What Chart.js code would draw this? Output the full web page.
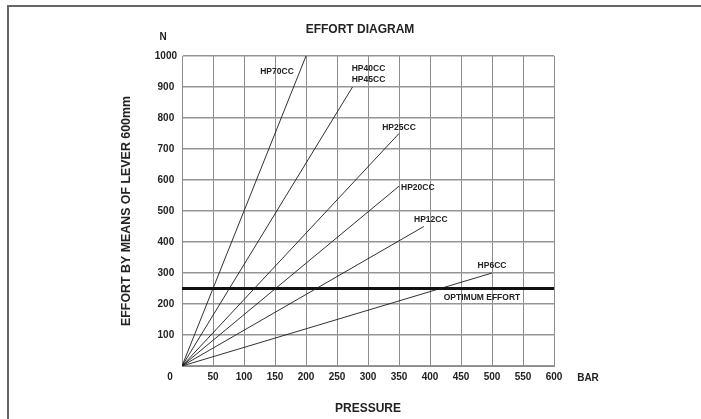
<!DOCTYPE html>
<html>
<head>
<meta charset="utf-8">
<script src="https://cdn.jsdelivr.net/npm/chart.js@4"></script>
<style>
    html, body { margin: 0; padding: 0; background: #fff; }
    #wrap { width: 701px; height: 419px; }
</style>
</head>
<body>
<div id="wrap"><canvas id="effortChart" width="701" height="419"></canvas></div>
<script>
// Pump models and the end point of each straight line (line starts at 0,0)
const models = ['HP70CC', 'HP40CC\nHP45CC', 'HP25CC', 'HP20CC', 'HP12CC', 'HP6CC'];
const endPressure = [200, 275, 350, 350, 390, 500];   // BAR
const endEffort = [1000, 900, 750, 580, 450, 300];     // N
const optimumEffort = 250;
const pressureMin = 0, pressureMax = 600, pressureStep = 50;
const effortMin = 0, effortMax = 1000, effortStep = 100;

// label placement relative to each line end (pixels)
const labelOffsets = [
    { dx: -29, dy: 16, align: 'center' },
    { dx: 16, dy: -18, align: 'center' },
    { dx: 0, dy: -6, align: 'center' },
    { dx: 2, dy: 1, align: 'left' },
    { dx: 7, dy: -7, align: 'center' },
    { dx: 0, dy: -7, align: 'center' }
];

const textColor = '#222';
const gridColor = '#8c8c8c';
const boldFont = 'Liberation Sans, Arial, sans-serif';

const datasets = models.map((m, i) => ({
    label: m.replace('\n', ' / '),
    data: [{ x: 0, y: 0 }, { x: endPressure[i], y: endEffort[i] }],
    borderColor: '#1a1a1a',
    borderWidth: 0.9,
    pointRadius: 0,
    fill: false
}));
datasets.push({
    label: 'OPTIMUM EFFORT',
    data: [{ x: pressureMin, y: optimumEffort }, { x: pressureMax, y: optimumEffort }],
    borderColor: '#111',
    borderWidth: 3,
    pointRadius: 0,
    fill: false
});

const annotations = {
    id: 'annotations',
    beforeDraw(chart) {
        const ctx = chart.ctx;
        ctx.save();
        ctx.fillStyle = '#666';
        ctx.fillRect(7, 5, chart.width - 7, 2);
        ctx.fillRect(7, 5, 2, chart.height - 5);
        ctx.restore();
    },
    afterDatasetsDraw(chart) {
        const { ctx, chartArea, scales: { x, y } } = chart;
        ctx.save();
        ctx.fillStyle = textColor;
        ctx.textBaseline = 'middle';
        ctx.font = 'bold 8.5px ' + boldFont;
        models.forEach((m, i) => {
            const px = x.getPixelForValue(endPressure[i]);
            const py = y.getPixelForValue(endEffort[i]);
            const off = labelOffsets[i];
            ctx.textAlign = off.align;
            m.split('\n').forEach((line, k) => {
                ctx.fillText(line, px + off.dx, py + off.dy + k * 11);
            });
        });
        ctx.textAlign = 'center';
        ctx.fillText('OPTIMUM EFFORT', chartArea.right - 72, y.getPixelForValue(optimumEffort) + 9.5);

        // axis units and the shared zero
        ctx.font = 'bold 10px ' + boldFont;
        ctx.fillText('N', chartArea.left - 19, chartArea.top - 19);
        ctx.fillText('0', chartArea.left - 12, chartArea.bottom + 11.5);
        ctx.fillText('BAR', chartArea.right + 34, chartArea.bottom + 12);
        ctx.restore();
    }
};

const ctx = document.getElementById('effortChart').getContext('2d');
new Chart(ctx, {
    type: 'line',
    data: { datasets: datasets },
    plugins: [annotations],
    options: {
        responsive: false,
        animation: false,
        layout: { padding: { left: 19, right: 0, top: 0, bottom: 0 } },
        plugins: {
            legend: { display: false },
            tooltip: { enabled: false },
            title: {
                display: true,
                text: 'EFFORT DIAGRAM',
                color: textColor,
                font: { family: boldFont, size: 12, weight: 'bold', lineHeight: 1.2 },
                padding: { top: 22, bottom: 19.6 }
            }
        },
        scales: {
            x: {
                type: 'linear',
                min: pressureMin,
                max: pressureMax,
                afterFit: (s) => { s.height = 53; },
                ticks: {
                    stepSize: pressureStep,
                    padding: 5,
                    color: textColor,
                    font: { family: boldFont, size: 10, weight: 'bold', lineHeight: 1.2 },
                    callback: (v) => v === 0 ? '' : v
                },
                grid: { color: gridColor, lineWidth: 1, drawTicks: false },
                border: { color: gridColor },
                title: {
                    display: true,
                    text: 'PRESSURE',
                    color: textColor,
                    font: { family: boldFont, size: 12, weight: 'bold', lineHeight: 1.2 },
                    padding: { top: 0, bottom: 3.5 }
                }
            },
            y: {
                type: 'linear',
                position: 'left',
                min: effortMin,
                max: effortMax,
                afterFit: (s) => { s.width = 163; },
                ticks: {
                    stepSize: effortStep,
                    padding: 5,
                    crossAlign: 'center',
                    color: textColor,
                    font: { family: boldFont, size: 10, weight: 'bold', lineHeight: 1.2 },
                    callback: (v) => v === 0 ? '' : v
                },
                grid: { color: '#959595', lineWidth: 1.5, drawTicks: false },
                border: { color: gridColor },
                title: {
                    display: true,
                    text: 'EFFORT BY MEANS OF LEVER 600mm',
                    color: textColor,
                    font: { family: boldFont, size: 12.4, weight: 'bold', lineHeight: 1.2 },
                    padding: { top: 100, bottom: 0 }
                }
            },
            // empty space to the right of the plot, where BAR sits
            yRight: {
                type: 'linear',
                position: 'right',
                display: true,
                afterFit: (s) => { s.width = 147; },
                ticks: { display: false },
                grid: { display: false },
                border: { display: false }
            }
        }
    }
});
</script>
</body>
</html>
